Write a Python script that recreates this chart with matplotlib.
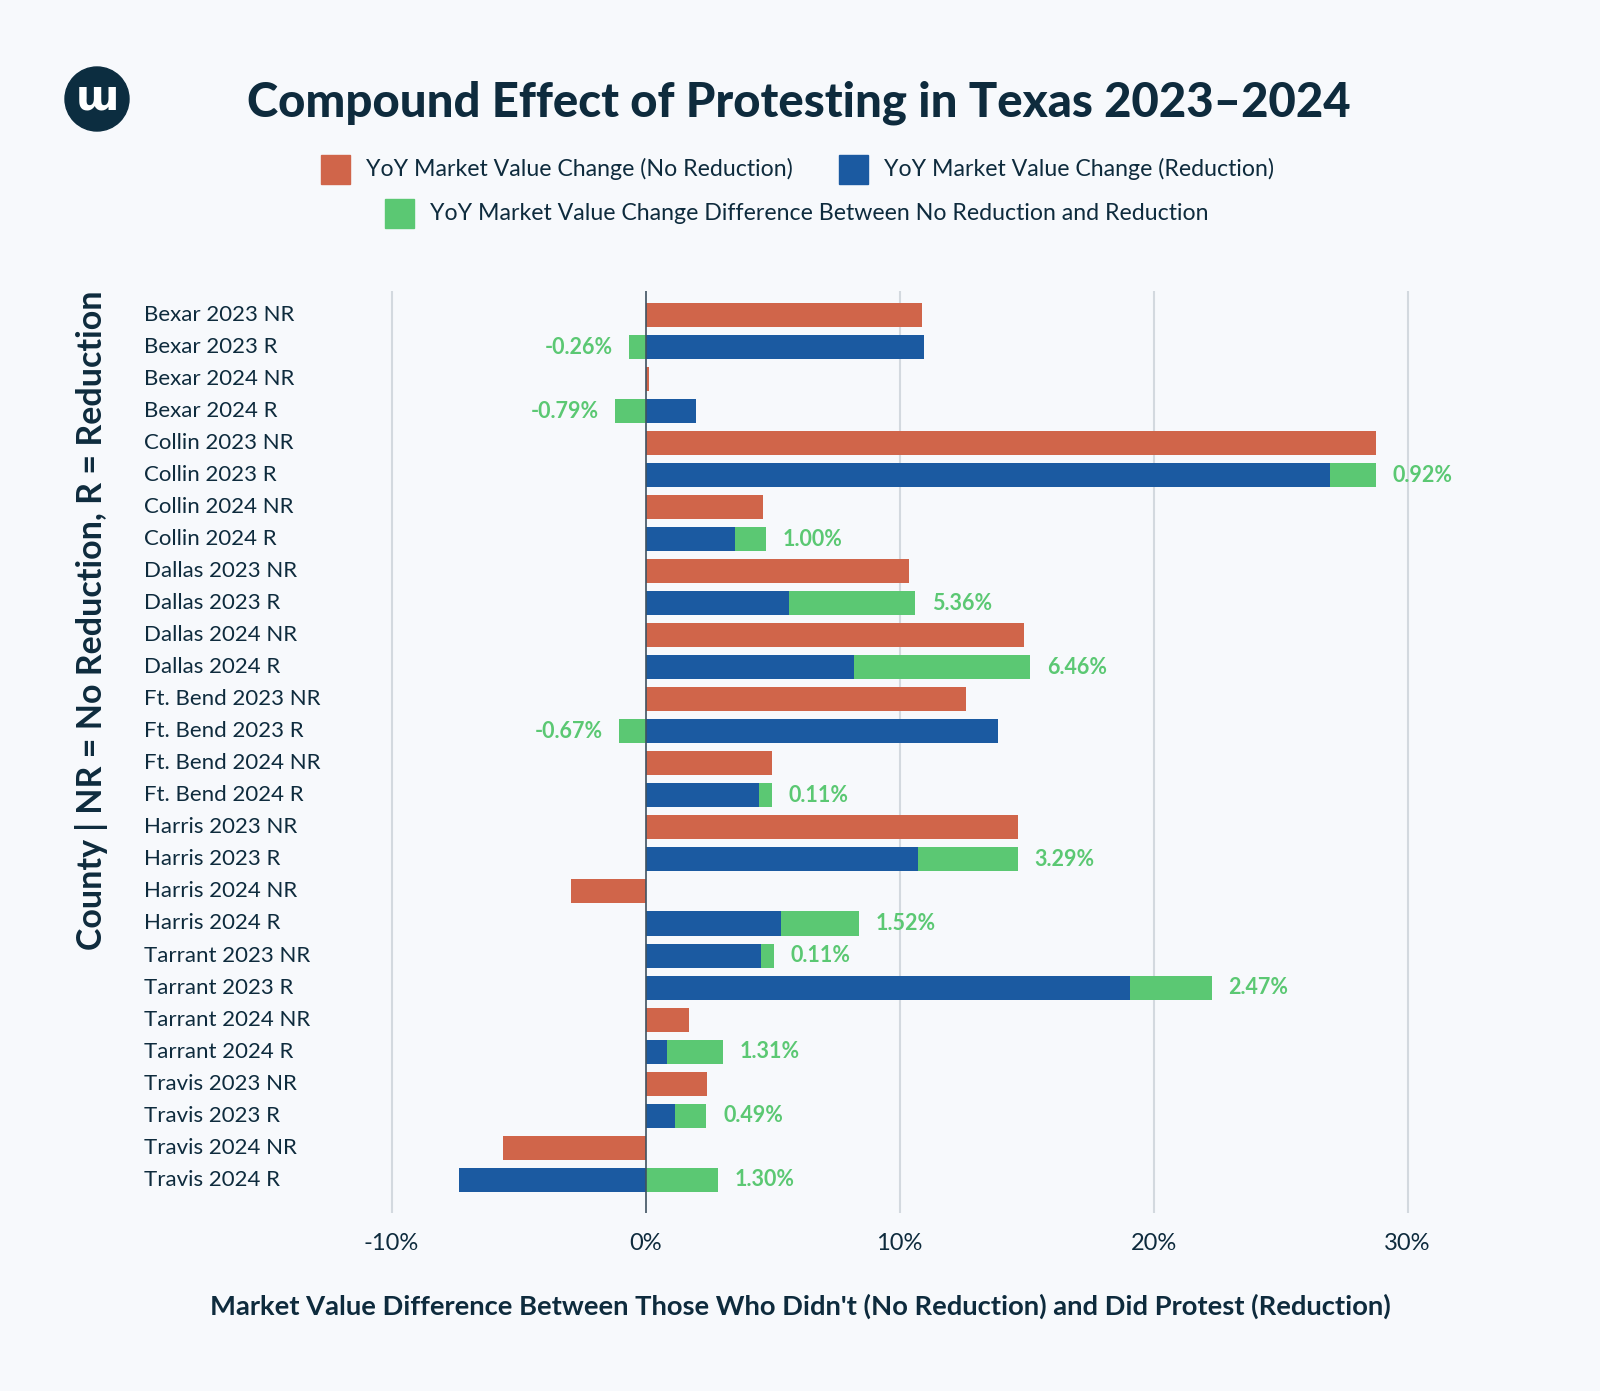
import numpy as np
import matplotlib
matplotlib.use("Agg")
import matplotlib.pyplot as plt
import matplotlib.transforms as mtransforms
from matplotlib.patches import Rectangle, Circle

# ---------------- data ----------------
rows = ["Bexar 2023 NR", "Bexar 2023 R", "Bexar 2024 NR", "Bexar 2024 R",
        "Collin 2023 NR", "Collin 2023 R", "Collin 2024 NR", "Collin 2024 R",
        "Dallas 2023 NR", "Dallas 2023 R", "Dallas 2024 NR", "Dallas 2024 R",
        "Ft. Bend 2023 NR", "Ft. Bend 2023 R", "Ft. Bend 2024 NR", "Ft. Bend 2024 R",
        "Harris 2023 NR", "Harris 2023 R", "Harris 2024 NR", "Harris 2024 R",
        "Tarrant 2023 NR", "Tarrant 2023 R", "Tarrant 2024 NR", "Tarrant 2024 R",
        "Travis 2023 NR", "Travis 2023 R", "Travis 2024 NR", "Travis 2024 R"]
nan = np.nan
no_reduction = [10.88, nan, 0.15, nan, 28.77, nan, 4.61, nan,
                10.38, nan, 14.90, nan, 12.61, nan, 4.97, nan,
                14.66, nan, -2.94, nan, nan, nan, 1.72, nan,
                2.44, nan, -5.61, nan]
reduction = [nan, 10.98, nan, 1.98, nan, 26.96, nan, 3.53,
             nan, 5.63, nan, 8.19, nan, 13.86, nan, 4.47,
             nan, 10.72, nan, 5.33, 4.55, 19.08, nan, 0.85,
             nan, 1.18, nan, -7.34]
difference = [nan, -0.65, nan, -1.19, nan, 1.81, nan, 1.22,
              nan, 4.98, nan, 6.95, nan, -1.05, nan, 0.50,
              nan, 3.94, nan, 3.06, 0.52, 3.21, nan, 2.21,
              nan, 1.22, nan, 2.87]
diff_labels = ["", "-0.26%", "", "-0.79%", "", "0.92%", "", "1.00%",
               "", "5.36%", "", "6.46%", "", "-0.67%", "", "0.11%",
               "", "3.29%", "", "1.52%", "0.11%", "2.47%", "", "1.31%",
               "", "0.49%", "", "1.30%"]
xticks = [-10, 0, 10, 20, 30]
xtick_labels = ["-10%", "0%", "10%", "20%", "30%"]

legend_labels = ["YoY Market Value Change (No Reduction)",
                 "YoY Market Value Change (Reduction)",
                 "YoY Market Value Change Difference Between No Reduction and Reduction"]

# ---------------- style ----------------
BG = "#F7F9FC"
ORANGE = "#D0654A"
BLUE = "#1B5AA1"
GREEN = "#5BC873"
DARK = "#0E2B3D"
GRID = "#D3D9DF"
FONT = "Lato"

plt.rcParams['font.family'] = [FONT, 'DejaVu Sans']

W, H = 1600, 1391
fig = plt.figure(figsize=(W / 100, H / 100), dpi=100, facecolor=BG)

# axes geometry (pixels)
x0_px, ppu = 645.5, 25.4  # zero position and pixels per percent
xmin, xmax = -15, 33
left_px = x0_px + xmin * ppu
right_px = x0_px + xmax * ppu
top_px, bot_px = 291, 1213
ax = fig.add_axes([left_px / W, 1 - bot_px / H, (right_px - left_px) / W, (bot_px - top_px) / H])
ax.set_facecolor(BG)
for s in ax.spines.values():
    s.set_visible(False)

n = len(rows)
y = np.arange(n)
nr = np.array(no_reduction)
rd = np.array(reduction)
df = np.array(difference)
bh = 0.75

ax.barh(y, nr, height=bh, color=ORANGE, zorder=3)
ax.barh(y, rd, height=bh, color=BLUE, zorder=3)
green_base = np.where((np.nan_to_num(rd) > 0) & (np.nan_to_num(df) > 0), rd, 0.0)
ax.barh(y, df, left=green_base, height=bh, color=GREEN, zorder=3)

for i in range(n):
    if not diff_labels[i]:
        continue
    xe = green_base[i] + df[i]
    if df[i] < 0:
        ax.annotate(diff_labels[i], (xe, y[i]), xytext=(-11.5, 0), textcoords="offset points",
                    ha="right", va="center", color=GREEN, fontsize=15.5, fontweight="bold")
    else:
        ax.annotate(diff_labels[i], (xe, y[i]), xytext=(12, 0), textcoords="offset points",
                    ha="left", va="center", color=GREEN, fontsize=15.5, fontweight="bold")

ax.set_xlim(xmin, xmax)
ax.set_ylim(n - 1 + 1.04, -0.75)
for t in xticks:
    if t == 0:
        ax.axvline(t, color="#3F5260", lw=1.2, zorder=4)
    else:
        ax.axvline(t, color=GRID, lw=1.5, zorder=1)
ax.set_xticks([])
ax.set_yticks([])

# y tick labels
trans = mtransforms.blended_transform_factory(fig.transFigure, ax.transData)
for i, lab in enumerate(rows):
    ax.text(144 / W, y[i], lab, transform=trans, ha="left", va="center",
            fontsize=16, color=DARK, clip_on=False)

# x tick labels
transx = mtransforms.blended_transform_factory(ax.transData, fig.transFigure)
for t, lab in zip(xticks, xtick_labels):
    ax.text(t, 1 - 1243 / H, lab, transform=transx, ha="center", va="center",
            fontsize=17, color=DARK, clip_on=False)

# axis titles
fig.text(800 / W, 1 - 1306 / H,
         "Market Value Difference Between Those Who Didn't (No Reduction) and Did Protest (Reduction)",
         ha="center", va="center", fontsize=19.7, fontweight="bold", color=DARK)
fig.text(92 / W, 1 - 620 / H, "County | NR = No Reduction, R = Reduction",
         rotation=90, ha="center", va="center", fontsize=24.5, fontweight="bold", color=DARK)

# title
fig.text(799 / W, 1 - 103 / H, "Compound Effect of Protesting in Texas 2023–2024",
         ha="center", va="center", fontsize=34, fontweight="black", color=DARK)

# logo
lax = fig.add_axes([0, 0, 1, 1], facecolor="none")
lax.set_xlim(0, W)
lax.set_ylim(H, 0)
lax.axis("off")
lax.add_patch(Circle((97, 99), 32, color="#0C2D40", zorder=1))
lax.text(97, 97, "ɯ", ha="center", va="center", fontsize=30, fontweight="bold",
         color="white", family="DejaVu Sans", zorder=2)

# legend
sq = 29
items = [(321, 169, ORANGE, legend_labels[0]),
         (839, 169, BLUE, legend_labels[1]),
         (385, 213, GREEN, legend_labels[2])]
for lx, ly, c, lab in items:
    lax.add_patch(Rectangle((lx, ly - sq / 2), sq, sq, color=c, zorder=1))
    lax.text(lx + sq + 16, ly, lab, ha="left", va="center", fontsize=16.7, color=DARK)

fig.savefig("out.png", dpi=100, facecolor=BG)
